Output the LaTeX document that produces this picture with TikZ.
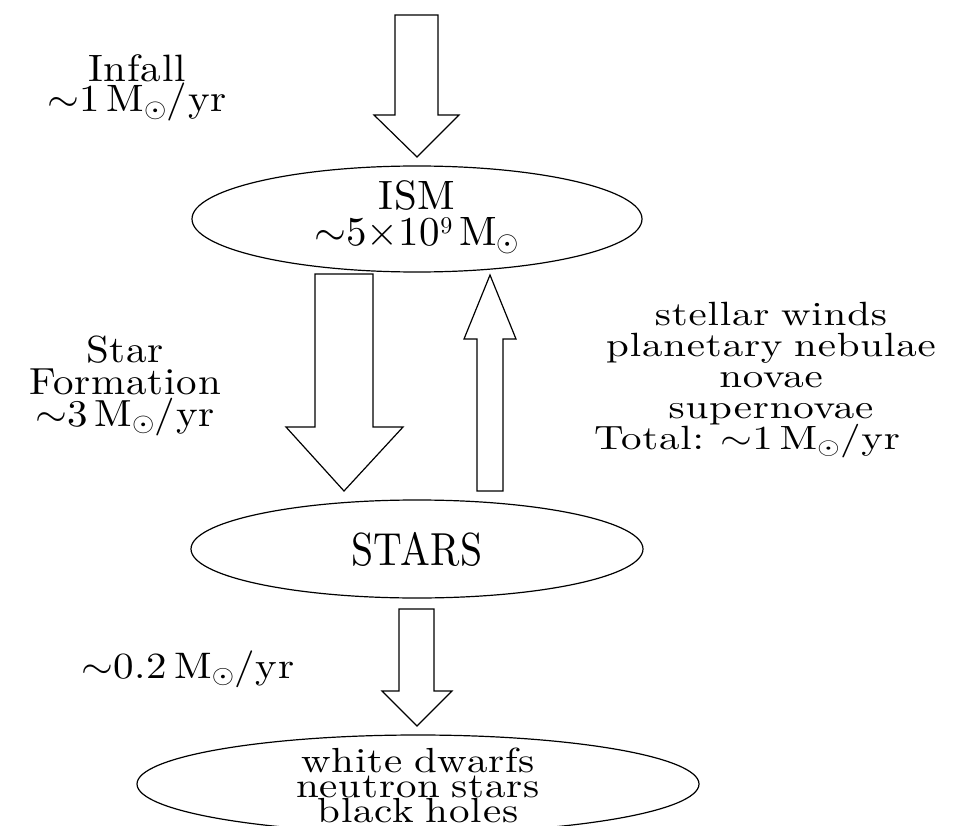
\RequirePackage{fix-cm}
\documentclass[tikz,border=0pt]{standalone}
\usepackage{fontspec}
\setmainfont{lmroman10-regular.otf}[LetterSpace=2,WordSpace=0.8]
\usetikzlibrary{shapes.geometric}
\newcommand{\tightlines}{\lineskiplimit=-100pt\lineskip=0pt}
\newcommand{\vs}[2]{\scalebox{1}[#1]{#2}}
\newcommand{\msun}{M$_\odot$}
\begin{document}
\begin{tikzpicture}[x=1pt,y=-1pt,line width=1.2pt,
  lbl/.style={font=\fontsize{41}{31}\selectfont\tightlines,align=center,inner sep=0pt},
  oval/.style={draw,ellipse,inner sep=0pt,font=\fontsize{41}{30}\selectfont\tightlines,align=center},
  blockarrow/.style={draw,line join=miter,fill=white}]
\useasboundingbox (0,0) rectangle (955,826);
\begin{scope}
\clip (0,0) rectangle (955,826);
% ovals
\node[oval,minimum width=450pt,minimum height=106pt] (ism) at (417,219) {};
\node[lbl,font=\fontsize{41}{36}\selectfont\tightlines] (ismtxt) at (417,217)
  {ISM\\$\sim$5$\times$10\raisebox{11.5pt}{\fontsize{24}{24}\selectfont 9}\,\msun};
\node[oval,minimum width=452pt,minimum height=98pt] (stars) at (417,549) {\scalebox{0.97}[1.13]{STARS}};
\node[oval,minimum width=562pt,minimum height=98pt] (remn) at (418,784) {};
\node[lbl,font=\fontsize{41}{25}\selectfont\tightlines] (remntxt) at (418,785)
  {\vs{0.85}{white dwarfs}\\\vs{0.85}{neutron stars}\\\vs{0.85}{black holes}};
% block arrows
\draw[blockarrow] (395,15) -- (438,15) -- (438,115) -- (459,115) -- (417,157) -- (374,115) -- (395,115) -- cycle;
\draw[blockarrow] (315,274) -- (373,274) -- (373,427) -- (403,427) -- (344,491) -- (286,427) -- (315,427) -- cycle;
\draw[blockarrow] (477,491) -- (503,491) -- (503,339) -- (516,339) -- (490,275) -- (464,339) -- (477,339) -- cycle;
\draw[blockarrow] (399,609) -- (434,609) -- (434,691) -- (452,691) -- (417,726) -- (382,691) -- (399,691) -- cycle;
% labels
\node[lbl,font=\fontsize{41}{30}\selectfont\tightlines] (infall) at (137,88)
  {\vs{0.93}{Infall}\\\vs{0.93}{$\sim$1\,\msun/yr}};
\node[lbl,font=\fontsize{41}{32}\selectfont\tightlines] (sf) at (125,385.5)
  {\vs{0.92}{Star}\\\vs{0.92}{Formation}\\\vs{0.92}{$\sim$3\,\msun/yr}};
\node[lbl] (ret) at (771,380)
  {\vs{0.82}{stellar winds}\\\vs{0.82}{planetary nebulae}\\\vs{0.82}{novae}\\\vs{0.82}{supernovae}\\\vs{0.82}{Total: $\sim$1\,\msun/yr}\hspace*{48pt}};
\node[lbl] (rem) at (188,669) {\vs{0.9}{$\sim$0.2\,\msun/yr}};
\end{scope}
\end{tikzpicture}
\end{document}
